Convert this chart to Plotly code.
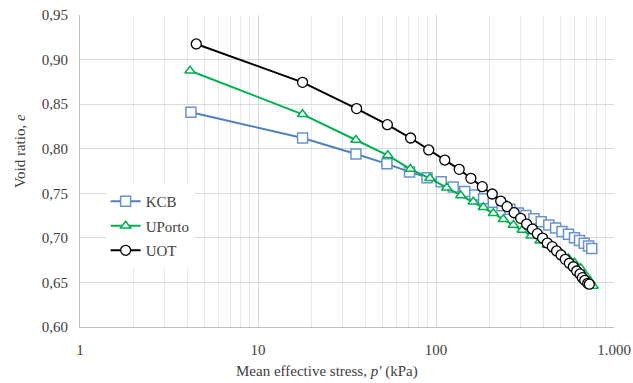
import plotly.graph_objects as go

# Data
kcb_p = [4.2, 17.8, 35.5, 53, 71, 89, 107, 125, 145, 165, 185, 210, 235, 260, 290, 320,
         355, 390, 430, 470, 510, 555, 600, 640, 680, 720, 750]
kcb_e = [0.841, 0.812, 0.794, 0.783, 0.774, 0.7675, 0.763, 0.757, 0.752, 0.748, 0.744,
         0.740, 0.736, 0.732, 0.728, 0.725, 0.7215, 0.718, 0.7145, 0.711, 0.707, 0.704,
         0.700, 0.697, 0.694, 0.691, 0.688]

uporto_p = [4.15, 17.8, 35.5, 53.6, 71.8, 92.4, 114.8, 137.7, 162, 184.5, 210, 239, 272,
            305, 342, 384, 422, 465, 510, 555, 600, 650, 700, 735, 765]
uporto_e = [0.8875, 0.8386, 0.8098, 0.7926, 0.7772, 0.7668, 0.7563, 0.7475, 0.7406, 0.7343,
            0.7276, 0.7208, 0.7144, 0.7088, 0.7024, 0.6968, 0.692, 0.687, 0.682, 0.677,
            0.672, 0.666, 0.657, 0.651, 0.646]

uot_p = [4.5, 17.8, 35.8, 53.3, 72, 91, 112, 135, 157, 182, 207, 231, 251, 275, 299, 323,
         348, 371, 397, 422, 450, 476, 504, 532, 561, 591, 617, 644, 664, 685, 712, 727]
uot_e = [0.9175, 0.8745, 0.845, 0.827, 0.812, 0.7986, 0.7873, 0.7769, 0.7668, 0.7574,
         0.7492, 0.7413, 0.735, 0.7282, 0.7219, 0.7155, 0.7099, 0.7047, 0.6998, 0.6942,
         0.6901, 0.6853, 0.6808, 0.6759, 0.6715, 0.6676, 0.6628, 0.6595, 0.6553, 0.6524,
         0.649, 0.648]

x_ticks = [1, 10, 100, 1000]
x_ticktext = ["1", "10", "100", "1.000"]

FONT = "Liberation Serif"
TXT = "#404040"

fig = go.Figure()
fig.add_trace(go.Scatter(
    x=kcb_p, y=kcb_e, name="KCB", mode="lines+markers", legendgroup="a",
    line=dict(color="#4F81BD", width=2),
    marker=dict(symbol="square", size=10, color="white",
                line=dict(color="#6A93CC", width=1.5))))
fig.add_trace(go.Scatter(
    x=uporto_p, y=uporto_e, name="UPorto", mode="lines+markers", legendgroup="b",
    line=dict(color="#00B050", width=2),
    marker=dict(symbol="triangle-up", size=9, color="white",
                line=dict(color="#00B050", width=1.5))))
fig.add_trace(go.Scatter(
    x=uot_p, y=uot_e, name="UOT", mode="lines+markers", legendgroup="c",
    line=dict(color="black", width=2),
    marker=dict(symbol="circle", size=10, color="white",
                line=dict(color="black", width=1.3))))

fig.update_layout(
    width=633, height=383,
    margin=dict(l=80, r=19, t=15, b=56),
    paper_bgcolor="white", plot_bgcolor="white",
    separators=",.",
    font=dict(family=FONT, size=15, color=TXT),
    showlegend=True,
    legend=dict(x=0.048, y=0.455, xanchor="left", yanchor="top",
                bgcolor="white", font=dict(family=FONT, size=15, color=TXT),
                itemwidth=30, traceorder="grouped", tracegroupgap=2),
    xaxis=dict(type="log", range=[0, 3], automargin=False,
               tickvals=x_ticks, ticktext=x_ticktext,
               showgrid=True, gridcolor="#D9D9D9", gridwidth=1,
               minor=dict(showgrid=True, gridcolor="#E8E8E8", gridwidth=1,
                          tickvals=[2, 3, 4, 5, 6, 7, 8, 9, 20, 30, 40, 50, 60, 70, 80, 90,
                                    200, 300, 400, 500, 600, 700, 800, 900]),
               showline=True, linecolor="#BFBFBF", linewidth=1,
               ticks="", ticklabelstandoff=9,
               zeroline=False),
    yaxis=dict(range=[0.60, 0.95], dtick=0.05, tickformat=".2f", automargin=False,
               showgrid=True, gridcolor="#D9D9D9", gridwidth=1,
               showline=True, linecolor="#BFBFBF", linewidth=1,
               ticks="", ticklabelstandoff=8,
               zeroline=False),
    annotations=[
        dict(text="Void ratio, <i>e</i>", xref="paper", yref="paper",
             x=-0.112, y=0.565, xanchor="center", yanchor="middle", textangle=-90,
             showarrow=False, font=dict(family=FONT, size=15, color=TXT)),
        dict(text="Mean effective stress, <i>p′</i> (kPa)", xref="paper", yref="paper",
             x=0.4625, y=-0.144, xanchor="center", yanchor="middle",
             showarrow=False, font=dict(family=FONT, size=15, color=TXT)),
    ],
)

fig.write_html(
    "out.html",
    config={"displayModeBar": False},
    post_script="document.body.style.margin='0';document.body.style.overflow='hidden';",
)
